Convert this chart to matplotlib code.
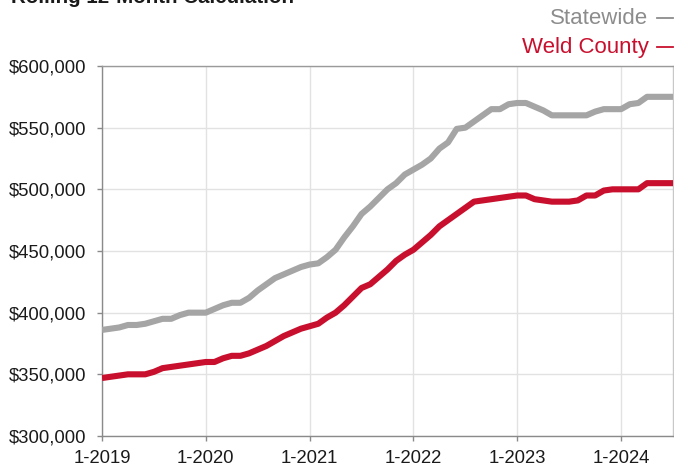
import numpy as np
import matplotlib
matplotlib.use("Agg")
import matplotlib.pyplot as plt
from matplotlib.ticker import FuncFormatter

plt.rcParams["font.family"] = ["Liberation Sans", "DejaVu Sans"]

# monthly rolling 12-month median sales price, 1-2019 .. 7-2024
statewide = [
    386, 387, 388, 390, 390, 391, 393, 395, 395, 398, 400, 400,
    400, 403, 406, 408, 408, 412, 418, 423, 428, 431, 434, 437,
    439, 440, 445, 451, 461, 470, 480, 486, 493, 500, 505, 512,
    516, 520, 525, 533, 538, 549, 550, 555, 560, 565, 565, 569,
    570, 570, 567, 564, 560, 560, 560, 560, 560, 563, 565, 565,
    565, 569, 570, 575, 575, 575, 575,
]
weld = [
    347, 348, 349, 350, 350, 350, 352, 355, 356, 357, 358, 359,
    360, 360, 363, 365, 365, 367, 370, 373, 377, 381, 384, 387,
    389, 391, 396, 400, 406, 413, 420, 423, 429, 435, 442, 447,
    451, 457, 463, 470, 475, 480, 485, 490, 491, 492, 493, 494,
    495, 495, 492, 491, 490, 490, 490, 491, 495, 495, 499, 500,
    500, 500, 500, 505, 505, 505, 505,
]
year_labels = ["1-2019", "1-2020", "1-2021", "1-2022", "1-2023", "1-2024"]

months = np.arange(len(statewide))
state_vals = np.array(statewide) * 1000
weld_vals = np.array(weld) * 1000

gray = "#a5a5a5"
red = "#c8102e"

fig = plt.figure(figsize=(6.74, 4.68), dpi=100)
ax = fig.add_axes([0.1513, 0.0684, 0.8472, 0.7906])

ax.plot(months, state_vals, color=gray, lw=4.4, solid_capstyle="butt", zorder=3)
ax.plot(months, weld_vals, color=red, lw=4.4, solid_capstyle="butt", zorder=4)

ax.set_xlim(0, len(statewide) - 1)
ax.set_ylim(300000, 600000)
ax.set_xticks(np.arange(0, len(statewide), 12))
ax.set_xticklabels(year_labels)
ax.set_yticks(np.arange(300000, 600001, 50000))
ax.yaxis.set_major_formatter(FuncFormatter(lambda v, p: f"${v:,.0f}"))

ax.grid(True, color="#e2e2e2", lw=1.0, zorder=0)
ax.set_axisbelow(True)
for side in ["left", "bottom", "top", "right"]:
    ax.spines[side].set_color("#8a8a8a")
    ax.spines[side].set_linewidth(1.0)
ax.spines["top"].set_color("#9a9a9a")
ax.spines["right"].set_color("#c8c8c8")
ax.tick_params(axis="both", colors="#8a8a8a", length=3.6, width=1,
               labelsize=13.3, labelcolor="#1a1a1a")
ax.tick_params(axis="x", pad=6.5)
ax.tick_params(axis="y", pad=8)

# title partly above the canvas, legend entries at top right
fig.text(0.0163, 0.9936, "Rolling 12-Month Calculation", fontsize=14.8,
         fontweight="bold", color="#1a1a1a", ha="left", va="baseline")
fig.text(0.962, 0.961, "Statewide", fontsize=16, color="#8c8c8c",
         ha="right", va="center")
fig.text(0.962, 0.899, "Weld County", fontsize=16, color=red,
         ha="right", va="center")
fig.add_artist(plt.Line2D([0.975, 0.998], [0.961, 0.961], color="#8c8c8c",
                          lw=1.3, transform=fig.transFigure))
fig.add_artist(plt.Line2D([0.975, 0.998], [0.899, 0.899], color=red,
                          lw=1.3, transform=fig.transFigure))

fig.savefig("out.png", dpi=100)
